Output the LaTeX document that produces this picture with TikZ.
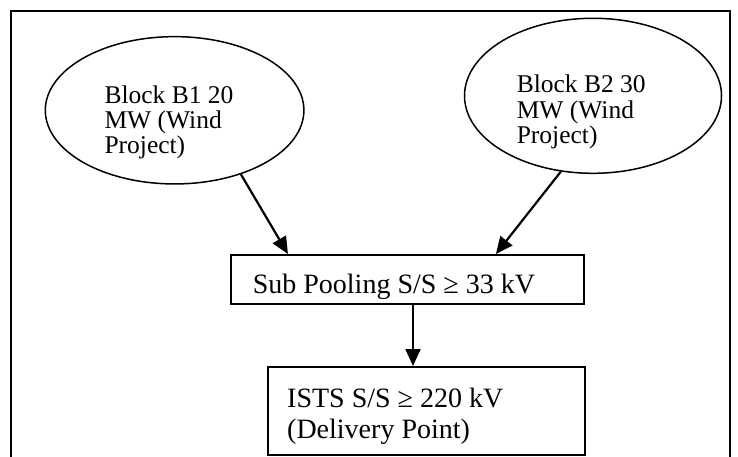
\documentclass[tikz,border=0pt]{standalone}
\usepackage{fontspec}
\setmainfont{Liberation Serif}
\usetikzlibrary{shapes.geometric,arrows.meta,calc}
\begin{document}
\begin{tikzpicture}[x=1pt,y=-1pt,
  ell/.style={draw, ellipse, line width=1.5pt, inner sep=0pt},
  boxnode/.style={draw, rectangle, line width=2pt, inner sep=0pt},
  etext/.style={align=left, inner sep=0pt, anchor=base west, font=\fontsize{25.5}{25.5}\selectfont},
  btext/.style={align=left, inner sep=0pt, anchor=base west, font=\fontsize{28}{31}\selectfont},
  arr/.style={-{Triangle[length=17pt,width=15pt]}, line width=2.2pt},
  framel/.style={line width=2.2pt}]
\useasboundingbox (0,0) rectangle (738,457);
\draw[framel] (11,457) -- (11,11) -- (730,11) -- (730,457);
% ellipses
\node[ell, minimum width=258.6pt, minimum height=147.3pt] (e1) at (174.6,110.3) {};
\node[ell, minimum width=257pt, minimum height=155pt] (e2) at (593,95.8) {};
\node[etext] (t1) at (104.3,154) {Block B1 20\\MW (Wind\\Project)};
\node[etext] (t2) at (516.6,144) {Block B2 30\\MW (Wind\\Project)};
% boxes
\node[boxnode, minimum width=352.3pt, minimum height=49pt] (sub) at (407.35,279.5) {};
\node[boxnode, minimum width=316.9pt, minimum height=88pt] (ists) at (426.05,411) {};
\node[btext] (subt) at (252.6,293.5) {Sub Pooling S/S ≥ 33 kV};
\node[btext] (istst) at (287,438) {ISTS S/S ≥ 220 kV\\(Delivery Point)};
% connectors
\draw[arr] (e1.-44.3) -- ($(sub.north west)!0.163!(sub.north east)$);
\draw[arr] (e2.247.4) -- ($(sub.north west)!0.75!(sub.north east)$);
\coordinate (a3) at (413,0);
\draw[arr] (sub.south -| a3) -- (ists.north -| a3);
\end{tikzpicture}
\end{document}
